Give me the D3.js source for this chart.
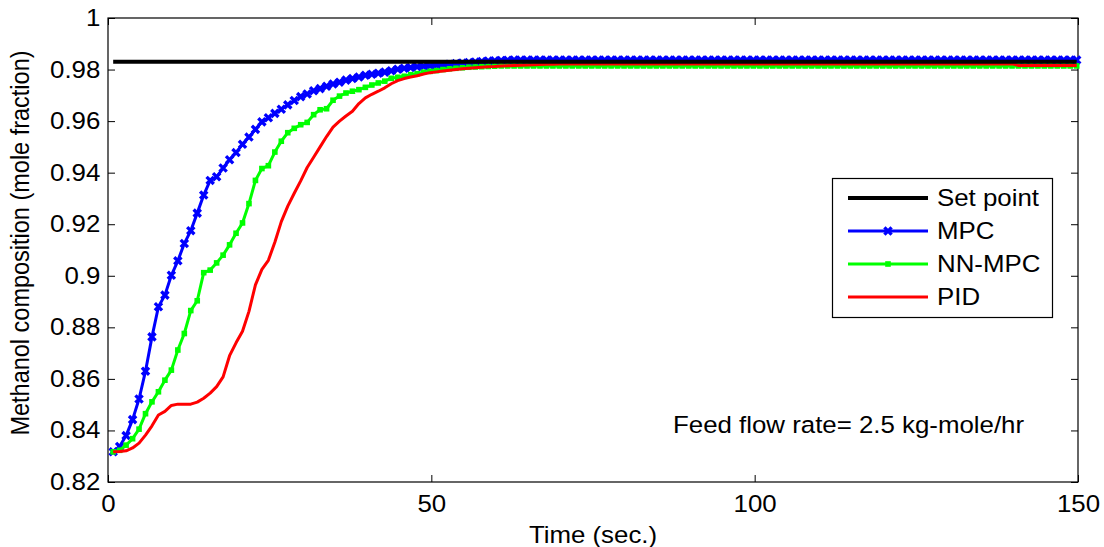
<!DOCTYPE html>
<html>
<head>
<meta charset="utf-8">
<script src="https://cdn.jsdelivr.net/npm/d3@7"></script>
<style>
  html, body { margin: 0; padding: 0; background: #fff; }
  svg { display: block; }
  text { font-family: "Liberation Sans", Arial, sans-serif; fill: #000; }
</style>
</head>
<body>
<svg id="chart" width="1104" height="547"></svg>
<script>
// Sample times (s): one sample per second starting at 0.8 s
const sampleStart = 0.8;
const sampleCount = 150;
const times = d3.range(sampleCount).map(k => sampleStart + k);

// Set point for methanol composition (mole fraction)
const setPoint = 0.983;

// MPC response
const mpc = [
  0.8317,0.8338,0.8380,0.8442,0.8522,0.8630,0.8763,0.8880,0.8925,0.9002,
  0.9058,0.9125,0.9175,0.9243,0.9313,0.9370,0.9384,0.9418,0.9450,0.9478,
  0.9510,0.9538,0.9568,0.9597,0.9613,0.9630,0.9646,0.9663,0.9680,0.9695,
  0.9705,0.9718,0.9726,0.9735,0.9744,0.9751,0.9759,0.9765,0.9771,0.9778,
  0.9782,0.9786,0.9790,0.9795,0.9801,0.9805,0.9808,0.9811,0.9813,0.9815,
  0.9817,0.9819,0.9821,0.9823,0.9825,0.9827,0.9829,0.9831,0.9833,0.9834,
  0.9835,0.9836,0.9837,0.9837,0.9837,0.9837,0.9837,0.9837,0.9837,0.9837,
  0.9837,0.9837,0.9837,0.9837,0.9837,0.9837,0.9837,0.9837,0.9837,0.9837,
  0.9837,0.9837,0.9837,0.9837,0.9837,0.9837,0.9837,0.9837,0.9837,0.9837,
  0.9837,0.9837,0.9837,0.9837,0.9837,0.9837,0.9837,0.9837,0.9837,0.9837,
  0.9837,0.9837,0.9837,0.9837,0.9837,0.9837,0.9837,0.9837,0.9837,0.9837,
  0.9837,0.9837,0.9837,0.9837,0.9837,0.9837,0.9837,0.9837,0.9837,0.9837,
  0.9837,0.9837,0.9837,0.9837,0.9837,0.9837,0.9837,0.9837,0.9837,0.9837,
  0.9837,0.9837,0.9837,0.9837,0.9837,0.9837,0.9837,0.9837,0.9837,0.9837,
  0.9837,0.9837,0.9837,0.9837,0.9837,0.9837,0.9837,0.9837,0.9837,0.9837
];

// NN-MPC response
const nnMpc = [
  0.8317,0.8323,0.8343,0.8368,0.8405,0.8465,0.8511,0.8550,0.8595,0.8634,
  0.8712,0.8776,0.8865,0.8903,0.9012,0.9022,0.9050,0.9080,0.9120,0.9165,
  0.9205,0.9280,0.9370,0.9416,0.9427,0.9480,0.9522,0.9555,0.9572,0.9586,
  0.9595,0.9625,0.9644,0.9648,0.9681,0.9697,0.9709,0.9716,0.9722,0.9731,
  0.9740,0.9748,0.9755,0.9766,0.9770,0.9774,0.9780,0.9784,0.9790,0.9793,
  0.9796,0.9800,0.9803,0.9805,0.9807,0.9809,0.9810,0.9811,0.9812,0.9813,
  0.9814,0.9814,0.9814,0.9814,0.9814,0.9814,0.9814,0.9814,0.9814,0.9814,
  0.9814,0.9814,0.9814,0.9814,0.9814,0.9814,0.9814,0.9814,0.9814,0.9814,
  0.9814,0.9814,0.9814,0.9814,0.9814,0.9814,0.9814,0.9814,0.9814,0.9814,
  0.9814,0.9814,0.9814,0.9814,0.9814,0.9814,0.9814,0.9814,0.9814,0.9814,
  0.9814,0.9814,0.9814,0.9814,0.9814,0.9814,0.9814,0.9814,0.9814,0.9814,
  0.9814,0.9814,0.9814,0.9814,0.9814,0.9814,0.9814,0.9814,0.9814,0.9814,
  0.9814,0.9814,0.9814,0.9814,0.9814,0.9814,0.9814,0.9814,0.9814,0.9814,
  0.9814,0.9814,0.9814,0.9814,0.9814,0.9814,0.9814,0.9814,0.9814,0.9814,
  0.9814,0.9814,0.9814,0.9814,0.9814,0.9814,0.9814,0.9814,0.9814,0.9814
];

// PID response
const pid = [
  0.8317,0.8318,0.8321,0.8332,0.8351,0.8382,0.8418,0.8460,0.8474,0.8497,
  0.8502,0.8502,0.8502,0.8510,0.8525,0.8545,0.8570,0.8608,0.8690,0.8740,
  0.8785,0.8862,0.8965,0.9025,0.9060,0.9130,0.9210,0.9270,0.9320,0.9368,
  0.9420,0.9460,0.9500,0.9540,0.9577,0.9600,0.9620,0.9638,0.9668,0.9690,
  0.9704,0.9716,0.9729,0.9745,0.9757,0.9765,0.9771,0.9776,0.9783,0.9788,
  0.9791,0.9794,0.9797,0.9800,0.9803,0.9805,0.9807,0.9809,0.9811,0.9812,
  0.9814,0.9815,0.9816,0.9817,0.9818,0.9819,0.9820,0.9821,0.9821,0.9822,
  0.9822,0.9822,0.9822,0.9822,0.9822,0.9822,0.9822,0.9822,0.9822,0.9822,
  0.9822,0.9822,0.9822,0.9822,0.9822,0.9822,0.9822,0.9822,0.9822,0.9822,
  0.9822,0.9822,0.9822,0.9822,0.9822,0.9822,0.9822,0.9822,0.9822,0.9822,
  0.9822,0.9822,0.9822,0.9822,0.9822,0.9822,0.9822,0.9822,0.9822,0.9822,
  0.9822,0.9822,0.9822,0.9822,0.9822,0.9822,0.9822,0.9822,0.9822,0.9822,
  0.9822,0.9822,0.9822,0.9822,0.9822,0.9822,0.9822,0.9822,0.9822,0.9822,
  0.9822,0.9822,0.9822,0.9822,0.9822,0.9822,0.9822,0.9822,0.9822,0.9822,
  0.9816,0.9816,0.9816,0.9816,0.9816,0.9816,0.9816,0.9816,0.9816,0.9816
];

// Axis ticks
const xTicks = [0, 50, 100, 150];
const yTicks = [0.82, 0.84, 0.86, 0.88, 0.9, 0.92, 0.94, 0.96, 0.98, 1];

const legendLabels = ["Set point", "MPC", "NN-MPC", "PID"];
const annotation = "Feed flow rate= 2.5 kg-mole/hr";
const xTitle = "Time (sec.)";
const yTitle = "Methanol composition (mole fraction)";

// ---- layout ----
const plot = { left: 108, right: 1078, top: 18, bottom: 482 };
const fontSize = 23.5;
const stretch = 1.1;          // glyphs are drawn slightly wide
const tickLen = 7;

const svg = d3.select("#chart");
svg.append("rect").attr("width", 1104).attr("height", 547).attr("fill", "#fff");

const x = d3.scaleLinear().domain([0, 150]).range([plot.left, plot.right]);
const y = d3.scaleLinear().domain([0.82, 1]).range([plot.bottom, plot.top]);

const fmt = d => String(+d.toFixed(2));

function styleAxis(g, labelled) {
  g.selectAll(".domain").remove();
  g.selectAll(".tick line").attr("stroke", "#000").attr("stroke-width", 1);
  if (labelled) {
    g.selectAll(".tick text")
      .attr("font-size", fontSize)
      .attr("fill", "#000")
      .attr("transform", `scale(${stretch},1)`);
  } else {
    g.selectAll(".tick text").remove();
  }
}

// Bottom and left axes with labels, ticks pointing into the plot
svg.append("g")
  .attr("transform", `translate(0,${plot.bottom})`)
  .call(d3.axisBottom(x).tickValues(xTicks).tickFormat(fmt)
        .tickSizeInner(-tickLen).tickSizeOuter(0).tickPadding(13))
  .call(g => styleAxis(g, true));

svg.append("g")
  .attr("transform", `translate(${plot.left},0)`)
  .call(d3.axisLeft(y).tickValues(yTicks).tickFormat(fmt)
        .tickSizeInner(-tickLen).tickSizeOuter(0).tickPadding(7))
  .call(g => styleAxis(g, true));

// Mirrored ticks on top and right
svg.append("g")
  .attr("transform", `translate(0,${plot.top})`)
  .call(d3.axisTop(x).tickValues(xTicks).tickSizeInner(-tickLen).tickSizeOuter(0))
  .call(g => styleAxis(g, false));

svg.append("g")
  .attr("transform", `translate(${plot.right},0)`)
  .call(d3.axisRight(y).tickValues(yTicks).tickSizeInner(-tickLen).tickSizeOuter(0))
  .call(g => styleAxis(g, false));

// Plot box
svg.append("rect")
  .attr("x", plot.left).attr("y", plot.top)
  .attr("width", plot.right - plot.left).attr("height", plot.bottom - plot.top)
  .attr("fill", "none").attr("stroke", "#000").attr("stroke-width", 1.2);

// ---- series ----
const line = d3.line().x(d => x(d[0])).y(d => y(d[1]));
const zip = vals => times.map((t, i) => [t, vals[i]]);

const colors = { set: "#000000", mpc: "#0000ff", nn: "#00ff00", pid: "#ff0000" };
const crossPath = "M-3.6,-3.6L3.6,3.6M-3.6,3.6L3.6,-3.6";
const crossWidth = 3.3;

const series = svg.append("g");

// MPC line with x markers
series.append("path").datum(zip(mpc)).attr("d", line)
  .attr("fill", "none").attr("stroke", colors.mpc).attr("stroke-width", 3)
  .attr("stroke-linejoin", "round");
series.append("g").selectAll("path").data(zip(mpc)).join("path")
  .attr("transform", d => `translate(${x(d[0])},${y(d[1])})`)
  .attr("d", crossPath).attr("stroke", colors.mpc).attr("stroke-width", crossWidth)
  .attr("fill", "none");

// NN-MPC line with point markers
series.append("path").datum(zip(nnMpc)).attr("d", line)
  .attr("fill", "none").attr("stroke", colors.nn).attr("stroke-width", 3)
  .attr("stroke-linejoin", "round");
series.append("g").selectAll("rect").data(zip(nnMpc)).join("rect")
  .attr("x", d => x(d[0]) - 2.8).attr("y", d => y(d[1]) - 2.8)
  .attr("width", 5.6).attr("height", 5.6).attr("fill", colors.nn);

// PID line
series.append("path").datum(zip(pid)).attr("d", line)
  .attr("fill", "none").attr("stroke", colors.pid).attr("stroke-width", 3)
  .attr("stroke-linejoin", "round");

// Set point
series.append("path")
  .datum([[times[0], setPoint], [times[times.length - 1], setPoint]])
  .attr("d", line).attr("fill", "none")
  .attr("stroke", colors.set).attr("stroke-width", 4);

// ---- text ----
function hText(str, tx, ty, anchor) {
  return svg.append("text")
    .attr("transform", `translate(${tx},${ty}) scale(${stretch},1)`)
    .attr("text-anchor", anchor || "start")
    .attr("font-size", fontSize)
    .text(str);
}

hText(xTitle, (plot.left + plot.right) / 2, 543, "middle");

svg.append("text")
  .attr("transform", `translate(29,243) scale(${stretch},1) rotate(-90)`)
  .attr("text-anchor", "middle")
  .attr("font-size", fontSize)
  .text(yTitle);

hText(annotation, 673, 433, "start");

// ---- legend ----
const legend = { x: 832.5, y: 178.5, w: 220, h: 139 };
svg.append("rect")
  .attr("x", legend.x).attr("y", legend.y).attr("width", legend.w).attr("height", legend.h)
  .attr("fill", "#fff").attr("stroke", "#000").attr("stroke-width", 1.2);

const legendRows = [
  { key: "set", width: 4 },
  { key: "mpc", width: 3, marker: "cross" },
  { key: "nn", width: 3, marker: "dot" },
  { key: "pid", width: 3 }
];
const rowY = [198, 231, 264, 297];
legendRows.forEach((r, i) => {
  const ly = rowY[i];
  svg.append("line").attr("x1", 848).attr("x2", 928).attr("y1", ly).attr("y2", ly)
    .attr("stroke", colors[r.key]).attr("stroke-width", r.width);
  if (r.marker === "cross") {
    svg.append("path").attr("transform", `translate(888,${ly})`)
      .attr("d", crossPath).attr("stroke", colors.mpc).attr("stroke-width", crossWidth).attr("fill", "none");
  } else if (r.marker === "dot") {
    svg.append("rect").attr("x", 888 - 2.8).attr("y", ly - 2.8)
      .attr("width", 5.6).attr("height", 5.6).attr("fill", colors.nn);
  }
  hText(legendLabels[i], 937, ly + 8.4, "start");
});
</script>
</body>
</html>
